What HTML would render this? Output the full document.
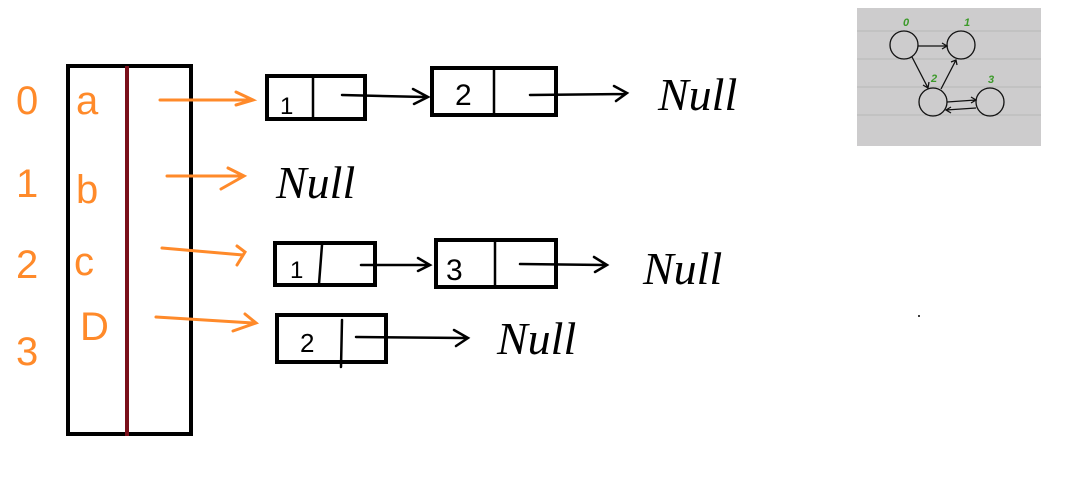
<!DOCTYPE html>
<html><head><meta charset="utf-8"><style>
html,body{margin:0;padding:0;background:#fff;width:1078px;height:477px;overflow:hidden}
svg{display:block}
.o{fill:#ff8a2a;font-family:"Liberation Sans",sans-serif;}
.n{fill:#000;font-family:"Liberation Serif",serif;font-style:italic;}
</style></head><body>
<svg width="1078" height="477" viewBox="0 0 1078 477">
<!-- array -->
<rect x="68" y="66" width="123" height="368" fill="none" stroke="#000" stroke-width="4"/>
<line x1="127" y1="66" x2="127" y2="436" stroke="#7a0f1a" stroke-width="4"/>
<g class="o" font-size="40">
<text x="16" y="114">0</text><text x="16" y="197">1</text><text x="16" y="278">2</text><text x="16" y="365">3</text>
<text x="76" y="114">a</text><text x="76" y="203">b</text><text x="74" y="275">c</text><text x="80" y="340">D</text>
</g>
<g stroke="#ff8a2a" stroke-width="3" fill="none" stroke-linecap="round">
<path d="M160 100 L253 100 M236 92 L253 100 L236 105"/>
<path d="M167 176 L242 176 M228 168 L244 176 L221 189"/>
<path d="M162 248 L243 255 M237 246 L245 252 L237 265"/>
<path d="M156 317 L253 323 M245 314 L256 323 L233 331"/>
</g>
<!-- nodes -->
<g stroke="#000" stroke-width="4" fill="none">
<rect x="267" y="76" width="98" height="43"/>
<rect x="432" y="68" width="124" height="47"/>
<rect x="275" y="243" width="100" height="42"/>
<rect x="436" y="240" width="120" height="47"/>
<rect x="277" y="315" width="109" height="47"/>
</g>
<g stroke="#000" stroke-width="2.5" fill="none" stroke-linecap="round">
<line x1="313" y1="78" x2="313" y2="118"/><line x1="494" y1="70" x2="494" y2="114"/>
<line x1="322" y1="245" x2="319" y2="284"/><line x1="495" y1="242" x2="495" y2="285"/>
<line x1="342" y1="320" x2="341" y2="367"/>
<path d="M342 95 L425 97 M413 89 L428 97 L414 104"/>
<path d="M530 95 L625 94 M614 86 L627 93 L616 101"/>
<path d="M361 265 L428 265 M418 258 L430 265 L418 271"/>
<path d="M520 264 L605 265 M594 257 L607 265 L595 272"/>
<path d="M356 337 L465 338 M454 330 L468 338 L456 346"/>
</g>
<g font-family="Liberation Sans,sans-serif" font-size="30" fill="#000">
<text x="280" y="114" font-size="24">1</text><text x="455" y="105">2</text>
<text x="290" y="278" font-size="24">1</text><text x="446" y="280">3</text>
<text x="300" y="352" font-size="26">2</text>
</g>
<g class="n" font-size="46">
<text x="658" y="110">Null</text>
<text x="276" y="198">Null</text>
<text x="643" y="284">Null</text>
<text x="497" y="354">Null</text>
</g>
<circle cx="919" cy="316" r="1" fill="#000"/>
<!-- inset -->
<rect x="857" y="8" width="184" height="138" fill="#cdcccd"/>
<g stroke="#b8b8b8" stroke-width="1">
<line x1="857" y1="31" x2="1041" y2="31"/><line x1="857" y1="59" x2="1041" y2="59"/>
<line x1="857" y1="87" x2="1041" y2="87"/><line x1="857" y1="115" x2="1041" y2="115"/>
</g>
<g stroke="#111" stroke-width="1.3" fill="none">
<circle cx="904" cy="45" r="14"/><circle cx="961" cy="45" r="14"/>
<circle cx="933" cy="102" r="14"/><circle cx="990" cy="102" r="14"/>
<path d="M918 46 L947 46 M942 43 L947 46 L942 49"/>
<path d="M912 57 L928 88 M923 85 L928 88 L929 82"/>
<path d="M941 89 L956 60 M951 62 L956 60 L957 65"/>
<path d="M947 102 L976 100 M971 97 L976 100 L971 103"/>
<path d="M976 108 L946 110 M951 107 L946 110 L951 113"/>
</g>
<g fill="#3c9a2a" font-family="Liberation Sans,sans-serif" font-style="italic" font-weight="bold" font-size="11">
<text x="903" y="26">0</text><text x="964" y="26">1</text><text x="931" y="82">2</text><text x="988" y="83">3</text>
</g>
</svg>
</body></html>
